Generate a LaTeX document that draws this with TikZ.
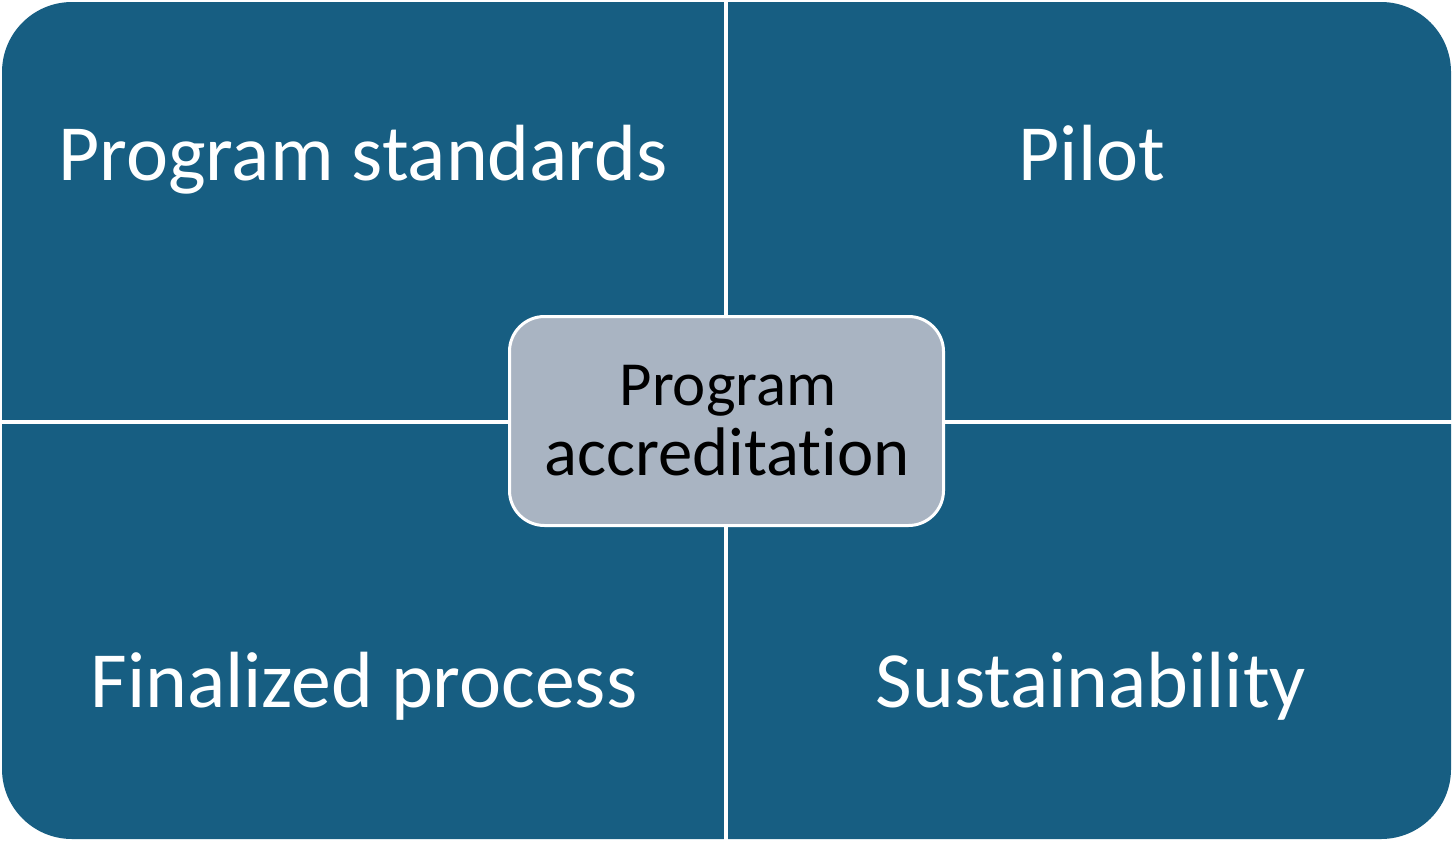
\documentclass[tikz,border=0pt]{standalone}
\usepackage{fontspec}
\setmainfont{Carlito}[Ligatures={NoCommon}]
\usetikzlibrary{positioning}
\definecolor{panelblue}{RGB}{23,94,130}
\definecolor{hubgray}{RGB}{169,180,194}
\newcommand{\bigsize}{\fontsize{80}{86}\selectfont}
\newcommand{\hubsize}{\fontsize{63}{70}\selectfont}
\newcommand{\hubbigsize}{\fontsize{69}{76}\selectfont}
\tikzset{
  quadlabel/.style={text=white, font=\bigsize, anchor=base, inner sep=0pt},
  hubline/.style={text=black, font=\hubsize, anchor=base, inner sep=0pt}
}

\begin{document}
\begin{tikzpicture}[x=1bp, y=-1bp]
        \useasboundingbox (0,0) rectangle (1453,841);
        % panels and the white cross between them
        \fill[panelblue, rounded corners=70bp] (2,2) rectangle (1451,839);
        \fill[white] (724,0) rectangle (728,841);
        \fill[white] (0,420) rectangle (1453,424);
        \node[quadlabel] (standards) at (363,180) {Program standards};
        \node[quadlabel] (pilot) at (1092,180) {Pilot};
        \node[quadlabel] (finalized) at (364,707) {Finalized process};
        \node[quadlabel] (sustain) at (1091,707) {Sustainability};
        % centre box
        \draw[white, line width=3bp, fill=hubgray, rounded corners=35bp] (509.5,316.5) rectangle (943.5,525.5);
        \node[hubline] (hubtop) at (728,405) {Program};
        \node[hubline, font=\hubbigsize] (hubbottom) at (727,475) {accreditation};
    \end{tikzpicture}
\end{document}
